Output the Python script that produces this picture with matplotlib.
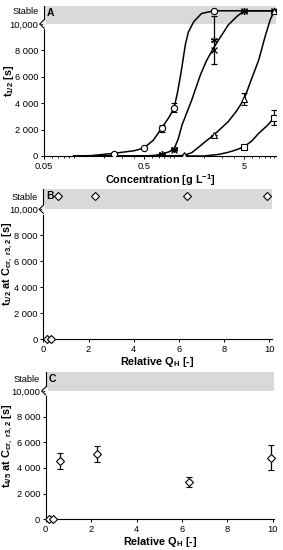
import matplotlib
matplotlib.use('Agg')
import matplotlib.pyplot as plt
import matplotlib.transforms as mtransforms
from matplotlib.ticker import LogLocator, NullFormatter, FixedLocator

plt.rcParams['font.family'] = ['Liberation Sans', 'DejaVu Sans']
plt.rcParams['mathtext.fontset'] = 'custom'
plt.rcParams['mathtext.rm'] = 'Liberation Sans'
plt.rcParams['mathtext.bf'] = 'Liberation Sans:bold'

# ---- data, panel A (t1/2 vs concentration) ----
stable = 11000

circ_x = [0.25, 0.5, 0.75, 1.0, 2.5]
circ_y = [150, 600, 2100, 3650, stable]
circ_err = [0, 0, 280, 350, 0]

star_x = [0.75, 1.0, 2.5, 5, 10]
star_y = [150, 500, 8800, stable, stable]
star_err = [0, 0, 1800, 0, 0]

cross_x = [0.75, 1.0, 2.5, 5, 10]
cross_y = [100, 450, 8000, stable, stable]

tri_x = [1.25, 2.5, 5, 10]
tri_y = [50, 1600, 4300, stable]
tri_err = [0, 0, 450, 0]

sq_x = [5, 10]
sq_y = [700, 2900]
sq_err = [0, 550]

# fitted curves
fit_circ_x = [0.1, 0.15, 0.25, 0.4, 0.5, 0.62, 0.75, 0.9, 1.0, 1.08, 1.16, 1.3, 1.39, 1.57, 1.88, 2.5, 5, 10]
fit_circ_y = [0, 30, 200, 400, 600, 1200, 2100, 3000, 3650, 4800, 6100, 8500, 9400, 10170, 10800, 11000, 11000, 11000]

fit_cross_x = [0.1, 0.5, 0.65, 0.75, 0.88, 1.0, 1.1, 1.2, 1.5, 1.83, 2.1, 2.4, 2.78, 3.47, 4.2, 5, 10]
fit_cross_y = [0, 0, 50, 150, 300, 530, 1300, 2350, 4240, 6140, 7200, 8000, 8790, 9920, 10550, 11000, 11000]

fit_tri_x = [0.1, 1.0, 1.25, 1.5, 1.78, 2.1, 2.5, 3.47, 4.2, 5, 5.8, 7.0, 8.1, 9.1, 10]
fit_tri_y = [0, 0, 50, 250, 700, 1150, 1600, 2600, 3400, 4300, 5630, 7270, 9040, 10300, 11000]

fit_sq_x = [0.1, 2.0, 2.8, 3.47, 4.2, 5, 6, 7, 8.5, 10]
fit_sq_y = [0, 0, 120, 280, 470, 700, 1150, 1720, 2300, 2900]

# ---- data, panels B and C (vs relative Q_H) ----
qh_b = [0.15, 0.33, 0.66, 2.29, 6.35, 9.88]
t12_b = [0, 0, stable, stable, stable, stable]

qh_c = [0.15, 0.33, 0.63, 2.27, 6.33, 9.91]
t45_c = [0, 0, 4540, 5070, 2930, 4800]
t45_err = [0, 0, 650, 640, 390, 990]

yticks = [0, 2000, 4000, 6000, 8000, 10000, stable]
yticklabels = ['0', '2 000', '4 000', '6 000', '8 000', '10,000', 'Stable']

fs_tick = 6.7
fs_lab = 7.8


def style_axes(ax, ytop, letter, ylab_x):
    ax.axhspan(10000, ytop, color='#d9d9d9', zorder=0, lw=0)
    ax.set_ylim(0, ytop)
    ax.spines['top'].set_visible(False)
    ax.spines['right'].set_visible(False)
    ax.spines['left'].set_linewidth(0.8)
    ax.spines['bottom'].set_linewidth(0.8)
    ax.set_yticks(yticks)
    ax.set_yticklabels(yticklabels)
    ax.yaxis.get_major_ticks()[-1].tick1line.set_visible(False)
    ax.tick_params(axis='both', labelsize=fs_tick, length=2.5, width=0.7, pad=1.5, colors='black')
    ax.yaxis.set_label_coords(ylab_x, 0.45)
    # axis break mark at 10,000
    tr = mtransforms.blended_transform_factory(ax.transAxes, ax.transData)
    ax.plot([0, 0], [9750, 10250], transform=tr, color='white', lw=2, clip_on=False, zorder=5)
    ax.plot([0, -0.018, 0], [9700, 10000, 10300], transform=tr, color='black', lw=0.8,
            clip_on=False, zorder=6)
    ax.text(0.012, 0.985, letter, transform=ax.transAxes, fontsize=7.5, fontweight='bold',
            va='top', ha='left')


fig = plt.figure(figsize=(2.83, 5.5), dpi=100)

# ---- panel A ----
axA = fig.add_axes([0.155, 0.7164, 0.82, 0.2726])
style_axes(axA, 11360, 'A', -0.118)
axA.set_xscale('log')
axA.set_xlim(0.05, 10.4)
axA.xaxis.set_major_locator(FixedLocator([0.05, 0.5, 5]))
axA.set_xticklabels(['0.05', '0.5', '5'])
axA.xaxis.set_minor_locator(LogLocator(base=10, subs=(1, 2, 3, 4, 6, 7, 8, 9)))
axA.xaxis.set_minor_formatter(NullFormatter())
axA.tick_params(axis='x', which='minor', length=1.5, width=0.6)

lw = 1.1
axA.plot(fit_circ_x, fit_circ_y, color='black', lw=lw, zorder=2)
axA.plot(fit_cross_x, fit_cross_y, color='black', lw=lw, zorder=2)
axA.plot(fit_tri_x, fit_tri_y, color='black', lw=lw, zorder=2)
axA.plot(fit_sq_x, fit_sq_y, color='black', lw=lw, zorder=2)

ekw = dict(color='black', elinewidth=0.9, capsize=2, capthick=0.9, ls='none', zorder=3)
axA.errorbar(circ_x, circ_y, yerr=circ_err, marker='o', ms=4.5, mfc='white', mec='black', mew=0.8, **ekw)
axA.errorbar(star_x, star_y, yerr=star_err, marker=(6, 2, 0), ms=5, mec='black', mew=0.9, **ekw)
axA.plot(cross_x, cross_y, 'x', ms=4.5, color='black', mew=0.9, zorder=3)
axA.errorbar(tri_x, tri_y, yerr=tri_err, marker='^', ms=4.5, mfc='white', mec='black', mew=0.8, **ekw)
axA.errorbar(sq_x, sq_y, yerr=sq_err, marker='s', ms=4.5, mfc='white', mec='black', mew=0.8, **ekw)

axA.set_xlabel('Concentration [g L$^{\\mathbf{-1}}$]', fontsize=fs_lab, fontweight='bold', labelpad=1)
axA.set_ylabel('t$_{\\mathbf{1/2}}$ [s]', fontsize=fs_lab, fontweight='bold')

# ---- panel B ----
axB = fig.add_axes([0.153, 0.3836, 0.807, 0.2727])
style_axes(axB, 11560, 'B', -0.125)
axB.set_xlim(0, 10.1)
axB.set_xticks([0, 2, 4, 6, 8, 10])
axB.plot(qh_b, t12_b, 'D', ms=3.8, mfc='white', mec='black', mew=0.8, clip_on=False, zorder=4)
axB.set_xlabel('Relative Q$_{\\mathbf{H}}$ [-]', fontsize=fs_lab, fontweight='bold', labelpad=1)
axB.set_ylabel('t$_{\\mathbf{1/2}}$ at C$_{\\mathbf{cr,\\ r3,2}}$ [s]', fontsize=fs_lab,
               fontweight='bold')

# ---- panel C ----
axC = fig.add_axes([0.1615, 0.0558, 0.807, 0.2684])
style_axes(axC, 11500, 'C', -0.135)
axC.set_xlim(0, 10.06)
axC.set_xticks([0, 2, 4, 6, 8, 10])
axC.errorbar(qh_c, t45_c, yerr=t45_err, marker='D', ms=3.8, mfc='white', mec='black', mew=0.8,
             clip_on=False, **ekw)
axC.set_xlabel('Relative Q$_{\\mathbf{H}}$ [-]', fontsize=fs_lab, fontweight='bold', labelpad=1)
axC.set_ylabel('t$_{\\mathbf{4/5}}$ at C$_{\\mathbf{cr,\\ r3,2}}$ [s]', fontsize=fs_lab,
               fontweight='bold')

plt.savefig('out.png', dpi=100)
